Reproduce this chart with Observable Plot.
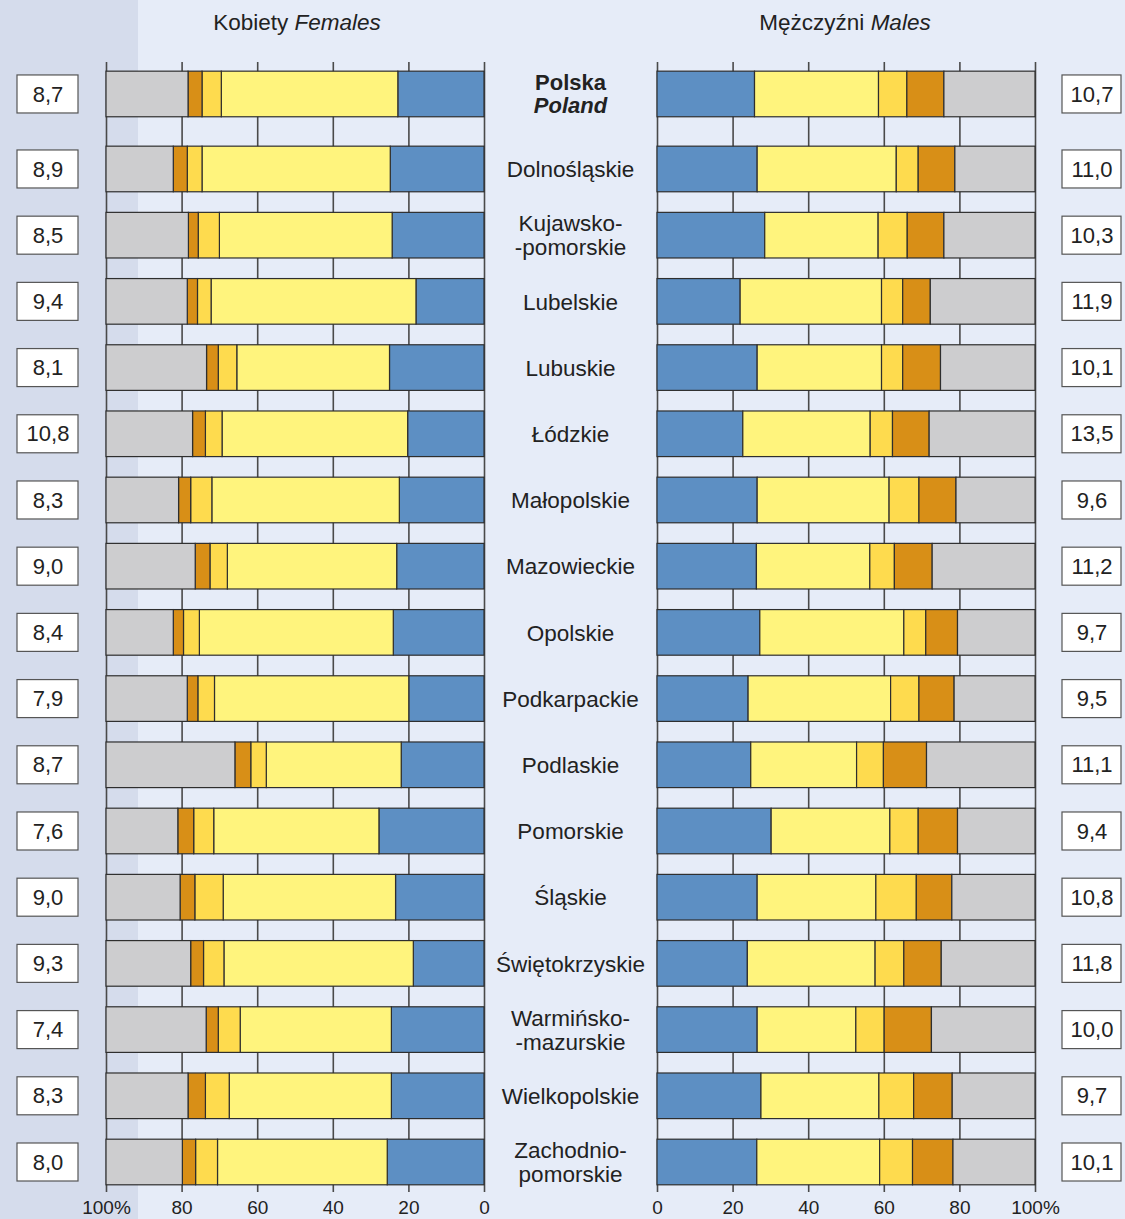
<!DOCTYPE html>
<html><head><meta charset="utf-8">
<script src="https://cdn.jsdelivr.net/npm/d3@7"></script>
<script src="https://cdn.jsdelivr.net/npm/@observablehq/plot@0.6"></script>
<style>
body{margin:0;}
#wrap{position:relative;width:1125px;height:1219px;overflow:hidden;background:linear-gradient(to right,#d5dcec 0,#d5dcec 138px,#e6ecf8 138px);font-family:"Liberation Sans",Arial,sans-serif;color:#222;}
.title{position:absolute;top:10px;font-size:22.5px;line-height:26px;transform:translateX(-50%);white-space:nowrap;}
.abs{position:absolute;top:40px;}
</style></head><body>
<div id="wrap">
<div class="title" style="left:297px">Kobiety <i>Females</i></div>
<div class="title" style="left:845px">Mężczyźni <i>Males</i></div>
</div>
<script>
// ---- data ----
const regions = ["Polska","Dolnośląskie","Kujawsko-pomorskie","Lubelskie","Lubuskie","Łódzkie","Małopolskie","Mazowieckie","Opolskie","Podkarpackie","Podlaskie","Pomorskie","Śląskie","Świętokrzyskie","Warmińsko-mazurskie","Wielkopolskie","Zachodniopomorskie"];
const regionLabels = ["Polska\nPoland","Dolnośląskie","Kujawsko-\n-pomorskie","Lubelskie","Lubuskie","Łódzkie","Małopolskie","Mazowieckie","Opolskie","Podkarpackie","Podlaskie","Pomorskie","Śląskie","Świętokrzyskie","Warmińsko-\n-mazurskie","Wielkopolskie","Zachodnio-\npomorskie"];
const categories = ["s1","s2","s3","s4","s5"];
const colors = ["#5d8fc3","#fff47d","#fedb4e","#d88f17","#cdcdcf"];

const femaleS1 = [22.8,24.8,24.3,18.0,25.0,20.2,22.4,23.1,24.0,19.9,21.9,27.8,23.4,18.7,24.5,24.5,25.6];
const femaleS2 = [46.7,49.8,45.7,54.2,40.4,49.1,49.6,44.8,51.3,51.4,35.7,43.7,45.6,50.1,40.0,42.9,44.9];
const femaleS3 = [5.1,3.9,5.6,3.6,4.9,4.4,5.6,4.6,4.2,4.4,4.1,5.3,7.5,5.4,5.8,6.3,5.8];
const femaleS4 = [3.7,3.7,2.6,2.7,3.1,3.4,3.2,3.9,2.7,2.8,4.2,4.2,3.9,3.4,3.2,4.6,3.5];
const femaleS5 = [21.7,17.8,21.8,21.5,26.6,22.9,19.2,23.6,17.8,21.5,34.1,19.0,19.6,22.4,26.5,21.7,20.2];

const maleS1 = [25.8,26.5,28.5,22.0,26.5,22.7,26.5,26.3,27.2,24.1,24.8,30.2,26.5,23.9,26.5,27.5,26.4];
const maleS2 = [32.8,36.8,30.0,37.4,32.9,33.7,34.9,30.0,38.1,37.7,28.0,31.4,31.4,33.8,26.1,31.2,32.5];
const maleS3 = [7.5,5.8,7.7,5.6,5.6,5.9,7.9,6.5,5.8,7.5,7.1,7.5,10.7,7.6,7.5,9.2,8.7];
const maleS4 = [9.8,9.7,9.7,7.3,10.0,9.7,9.8,10.0,8.4,9.3,11.4,10.4,9.4,9.9,12.5,10.2,10.7];
const maleS5 = [24.1,21.2,24.1,27.7,25.0,28.0,20.9,27.2,20.5,21.4,28.7,20.5,22.0,24.8,27.4,21.9,21.7];

const femaleRate = [8.7,8.9,8.5,9.4,8.1,10.8,8.3,9.0,8.4,7.9,8.7,7.6,9.0,9.3,7.4,8.3,8.0];
const maleRate = [10.7,11.0,10.3,11.9,10.1,13.5,9.6,11.2,9.7,9.5,11.1,9.4,10.8,11.8,10.0,9.7,10.1];

const xTicks = [0,0.2,0.4,0.6,0.8,1];

// ---- build tables ----
function longData(series){
  const out=[];
  regions.forEach((r,i)=>categories.forEach((c,j)=>out.push({region:r,cat:c,value:series[j][i]})));
  return out;
}
const female = longData([femaleS1,femaleS2,femaleS3,femaleS4,femaleS5]);
const male = longData([maleS1,maleS2,maleS3,maleS4,maleS5]);
const labels = regions.map((r,i)=>({region:r,label:regionLabels[i]}));
const fRates = regions.map((r,i)=>({region:r,v:femaleRate[i]}));
const mRates = regions.map((r,i)=>({region:r,v:maleRate[i]}));
const national = regions[0];
const isNat = d=>d.region===national;
const notNat = d=>d.region!==national;

// ---- layout ----
const H = 1179, MT = 22, MB = 27;
const natShift = -8.8;
const font = '"Liberation Sans", Arial, sans-serif';
const yOpts = {domain: regions, paddingInner: 0.311, paddingOuter: 0.19, align: 0.714, round: false, axis: null};
const colorOpts = {domain: categories, range: colors};
const fmtTick = d => d===1 ? "100%" : String(Math.round(d*100));
const fmtRate = v => v.toFixed(1).replace(".", ",");

function barMarks(data){
  const o = {x:"value", y:"region", fill:"cat", order:categories, offset:"normalize", stroke:"#2e2e2e", strokeWidth:1.2};
  return [
    Plot.ruleX(xTicks, {stroke:"#4a4a4a", strokeWidth:1.6}),
    Plot.barX(data.filter(notNat), o),
    Plot.barX(data.filter(isNat), {...o, dy: natShift})
  ];
}

const wrap = document.getElementById("wrap");
function place(svg, left){ svg.classList.add("abs"); svg.style.left = left+"px"; wrap.appendChild(svg); }

// left panel (females)
place(Plot.plot({
  width: 660, height: H, marginLeft: 106, marginRight: 176, marginTop: MT, marginBottom: MB,
  style: {background:"transparent", fontFamily: font, fontSize:"19px", color:"#222", overflow:"visible"},
  x: {domain:[0,1], reverse:true, ticks: xTicks, tickFormat: fmtTick, tickSize:0, tickPadding:8, label:null},
  y: yOpts, color: colorOpts,
  marks: barMarks(female)
}), 0);

// right panel (males) + region labels
const lbl = {y:"region", frameAnchor:"left", textAnchor:"middle", dx:-87, fill:"#222"};
place(Plot.plot({
  width: 645, height: H, marginLeft: 177, marginRight: 90, marginTop: MT, marginBottom: MB,
  style: {background:"transparent", fontFamily: font, fontSize:"19px", color:"#222", overflow:"visible"},
  x: {domain:[0,1], ticks: xTicks, tickFormat: fmtTick, tickSize:0, tickPadding:8, label:null},
  y: yOpts, color: colorOpts,
  marks: [
    ...barMarks(male),
    Plot.text(labels.filter(notNat), {...lbl, text:"label", fontSize:22.5, lineHeight:1.06}),
    Plot.text(labels.filter(isNat), {...lbl, text:()=>"Polska", dy:natShift-11.5, fontSize:22, fontWeight:"bold"}),
    Plot.text(labels.filter(isNat), {...lbl, text:()=>"Poland", dy:natShift+11.5, fontSize:22, fontWeight:"bold", fontStyle:"italic"})
  ]
}), 480);

// rate boxes
function boxPlot(rates, width, mL, mR){
  const cellO = {x:()=>"r", y:"region", fill:"white", stroke:"#555", strokeWidth:1.2, insetTop:3.8, insetBottom:3.8};
  const textO = {x:()=>"r", y:"region", text:d=>fmtRate(d.v), fontSize:22, fill:"#222"};
  return Plot.plot({
    width, height: H, marginLeft: mL, marginRight: mR, marginTop: MT, marginBottom: MB,
    style: {background:"transparent", fontFamily: font, overflow:"visible"},
    x: {domain:["r"], padding:0, axis:null}, y: yOpts,
    marks: [
      Plot.cell(rates.filter(notNat), cellO),
      Plot.cell(rates.filter(isNat), {...cellO, dy:natShift}),
      Plot.text(rates.filter(notNat), textO),
      Plot.text(rates.filter(isNat), {...textO, dy:natShift})
    ]
  });
}
place(boxPlot(fRates, 95, 17, 17), 0);
place(boxPlot(mRates, 85, 22, 4), 1040);
</script>
</body></html>
